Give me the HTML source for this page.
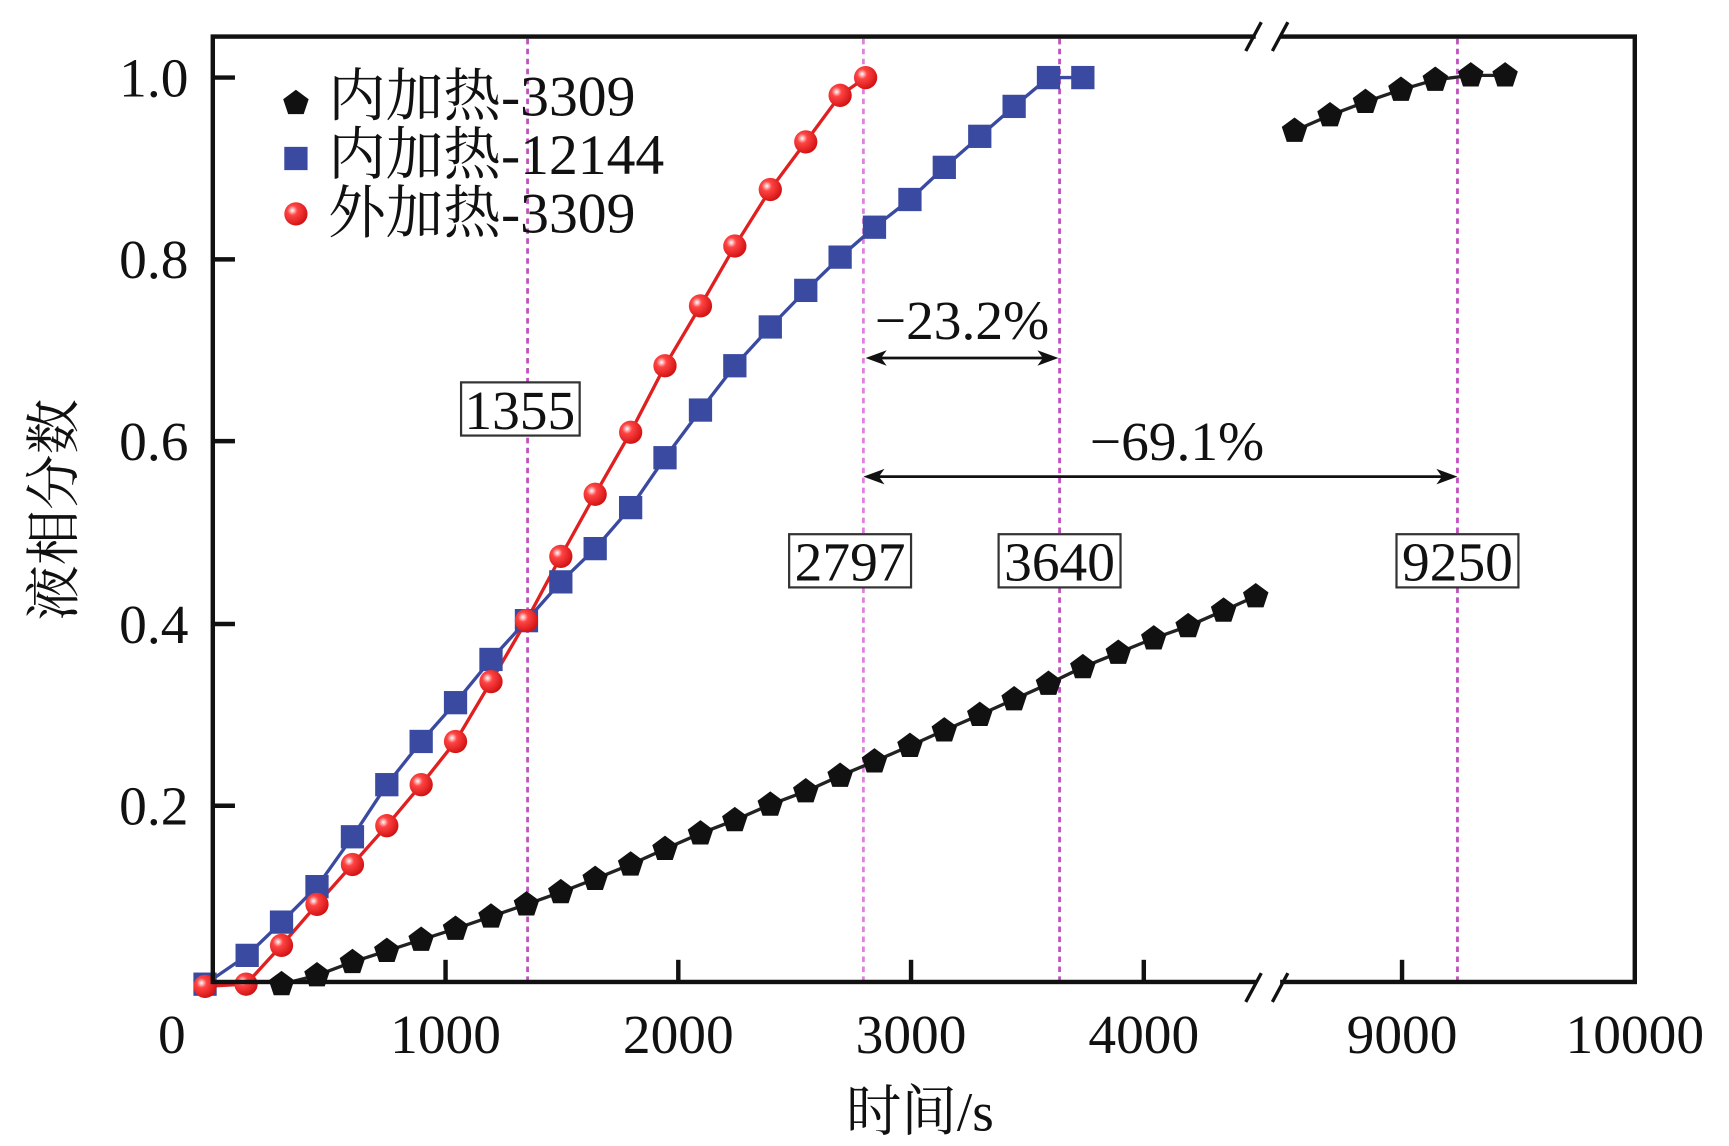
<!DOCTYPE html>
<html><head><meta charset="utf-8"><style>html,body{margin:0;padding:0;background:#fff}svg{display:block}</style></head><body>
<svg width="1729" height="1146" viewBox="0 0 1560 1034" preserveAspectRatio="none" xmlns="http://www.w3.org/2000/svg" font-family="'Liberation Serif','Noto Serif CJK SC',serif">
<defs>
<radialGradient id="rg" cx="0.35" cy="0.35" r="0.7"><stop offset="0" stop-color="#fff"/><stop offset="0.3" stop-color="#f44"/><stop offset="1" stop-color="#d01010"/></radialGradient>
<polygon id="pent" points="0,-12 11.5,-3.5 7,10 -7,10 -11.5,-3.5" fill="#111"/>
<rect id="sq" x="-10.5" y="-10.5" width="21" height="21" fill="#3a4aa0"/>
<circle id="ci" r="10.5" fill="url(#rg)"/>
</defs>
<g stroke="#c050c0" stroke-width="2.5" stroke-dasharray="5,4">
<line x1="476" y1="35" x2="476" y2="886"/><line x1="779" y1="35" x2="779" y2="886" stroke="#e080e0"/>
<line x1="956" y1="35" x2="956" y2="886"/><line x1="1315" y1="35" x2="1315" y2="886"/>
</g>
<polyline fill="none" stroke="#222" stroke-width="3" points="254,888 286,880 318,868 349,858 380,848 411,838 443,827 475,816 506,805 537,793 569,780 600,766 632,752 663,740 695,726 727,714 758,700 789,687 821,673 852,659 884,645 915,631 946,617 977,602 1009,589 1041,576 1072,565 1104,551 1133,538"/>
<polyline fill="none" stroke="#222" stroke-width="3" points="1168,118 1200,104 1232,92 1264,81 1295,72 1327,68 1358,68"/>
<polyline fill="none" stroke="#3a4aa0" stroke-width="3" points="185,888 223,862 254,832 286,800 318,755 349,708 380,669 411,634 443,595 475,560 506,525 537,495 569,458 600,413 632,370 663,330 695,295 727,262 758,232 789,205 821,180 852,151 884,123 915,96 946,70 977,70"/>
<polyline fill="none" stroke="#e02020" stroke-width="3" points="185,890 222,888 254,853 286,816 318,780 349,745 380,708 411,669 443,615 475,560 506,502 537,446 569,390 600,330 632,276 663,222 695,171 727,128 758,86 781,70"/>
<g>
<use href="#pent" x="254" y="888"/><use href="#pent" x="286" y="880"/><use href="#pent" x="318" y="868"/><use href="#pent" x="349" y="858"/><use href="#pent" x="380" y="848"/><use href="#pent" x="411" y="838"/><use href="#pent" x="443" y="827"/><use href="#pent" x="475" y="816"/><use href="#pent" x="506" y="805"/><use href="#pent" x="537" y="793"/><use href="#pent" x="569" y="780"/><use href="#pent" x="600" y="766"/><use href="#pent" x="632" y="752"/><use href="#pent" x="663" y="740"/><use href="#pent" x="695" y="726"/><use href="#pent" x="727" y="714"/><use href="#pent" x="758" y="700"/><use href="#pent" x="789" y="687"/><use href="#pent" x="821" y="673"/><use href="#pent" x="852" y="659"/><use href="#pent" x="884" y="645"/><use href="#pent" x="915" y="631"/><use href="#pent" x="946" y="617"/><use href="#pent" x="977" y="602"/><use href="#pent" x="1009" y="589"/><use href="#pent" x="1041" y="576"/><use href="#pent" x="1072" y="565"/><use href="#pent" x="1104" y="551"/><use href="#pent" x="1133" y="538"/>
<use href="#pent" x="1168" y="118"/><use href="#pent" x="1200" y="104"/><use href="#pent" x="1232" y="92"/><use href="#pent" x="1264" y="81"/><use href="#pent" x="1295" y="72"/><use href="#pent" x="1327" y="68"/><use href="#pent" x="1358" y="68"/>
</g>
<g>
<use href="#sq" x="185" y="888"/><use href="#sq" x="223" y="862"/><use href="#sq" x="254" y="832"/><use href="#sq" x="286" y="800"/><use href="#sq" x="318" y="755"/><use href="#sq" x="349" y="708"/><use href="#sq" x="380" y="669"/><use href="#sq" x="411" y="634"/><use href="#sq" x="443" y="595"/><use href="#sq" x="475" y="560"/><use href="#sq" x="506" y="525"/><use href="#sq" x="537" y="495"/><use href="#sq" x="569" y="458"/><use href="#sq" x="600" y="413"/><use href="#sq" x="632" y="370"/><use href="#sq" x="663" y="330"/><use href="#sq" x="695" y="295"/><use href="#sq" x="727" y="262"/><use href="#sq" x="758" y="232"/><use href="#sq" x="789" y="205"/><use href="#sq" x="821" y="180"/><use href="#sq" x="852" y="151"/><use href="#sq" x="884" y="123"/><use href="#sq" x="915" y="96"/><use href="#sq" x="946" y="70"/><use href="#sq" x="977" y="70"/>
</g>
<g>
<use href="#ci" x="185" y="890"/><use href="#ci" x="222" y="888"/><use href="#ci" x="254" y="853"/><use href="#ci" x="286" y="816"/><use href="#ci" x="318" y="780"/><use href="#ci" x="349" y="745"/><use href="#ci" x="380" y="708"/><use href="#ci" x="411" y="669"/><use href="#ci" x="443" y="615"/><use href="#ci" x="475" y="560"/><use href="#ci" x="506" y="502"/><use href="#ci" x="537" y="446"/><use href="#ci" x="569" y="390"/><use href="#ci" x="600" y="330"/><use href="#ci" x="632" y="276"/><use href="#ci" x="663" y="222"/><use href="#ci" x="695" y="171"/><use href="#ci" x="727" y="128"/><use href="#ci" x="758" y="86"/><use href="#ci" x="781" y="70"/>
</g>
<g stroke="#111" stroke-width="4" fill="none">
<rect x="192" y="33" width="1283" height="853"/>
<line x1="192" y1="727" x2="212" y2="727"/><line x1="192" y1="563" x2="212" y2="563"/><line x1="192" y1="398" x2="212" y2="398"/><line x1="192" y1="234" x2="212" y2="234"/><line x1="192" y1="70" x2="212" y2="70"/>
<line x1="402" y1="886" x2="402" y2="866"/><line x1="612" y1="886" x2="612" y2="866"/><line x1="822" y1="886" x2="822" y2="866"/><line x1="1032" y1="886" x2="1032" y2="866"/><line x1="1265" y1="886" x2="1265" y2="866"/>
</g>
<rect x="1133" y="26" width="22" height="14" fill="#fff"/><rect x="1133" y="879" width="22" height="14" fill="#fff"/>
<g stroke="#111" stroke-width="3"><line x1="1124" y1="46" x2="1138" y2="20"/><line x1="1148" y1="46" x2="1162" y2="20"/><line x1="1124" y1="904" x2="1138" y2="878"/><line x1="1148" y1="904" x2="1162" y2="878"/></g>
<g font-size="50" fill="#111" text-anchor="end">
<text x="170" y="87">1.0</text><text x="170" y="251">0.8</text><text x="170" y="415">0.6</text><text x="170" y="580">0.4</text><text x="170" y="744">0.2</text>
</g>
<g font-size="50" fill="#111" text-anchor="middle">
<text x="155" y="950">0</text><text x="402" y="950">1000</text><text x="612" y="950">2000</text><text x="822" y="950">3000</text><text x="1032" y="950">4000</text><text x="1265" y="950">9000</text><text x="1475" y="950">10000</text>
</g>
<text x="830" y="1020" font-size="50" text-anchor="middle" fill="#111">时间/s</text>
<text transform="translate(66,460) rotate(-90)" font-size="50" text-anchor="middle" fill="#111">液相分数</text>
<use href="#pent" x="267" y="93"/><use href="#sq" x="267" y="143"/><use href="#ci" x="267" y="193"/>
<g font-size="52" fill="#111"><text x="296" y="104">内加热-3309</text><text x="296" y="157">内加热-12144</text><text x="296" y="210">外加热-3309</text></g>
<g fill="#fff" stroke="#333" stroke-width="2"><rect x="416" y="345" width="107" height="48"/><rect x="712" y="482" width="110" height="48"/><rect x="901" y="482" width="110" height="48"/><rect x="1260" y="482" width="110" height="48"/></g>
<g font-size="50" fill="#111" text-anchor="middle"><text x="469" y="387">1355</text><text x="767" y="524">2797</text><text x="956" y="524">3640</text><text x="1315" y="524">9250</text></g>
<g stroke="#111" stroke-width="2.5"><line x1="785" y1="323" x2="950" y2="323"/><line x1="783" y1="430" x2="1310" y2="430"/></g>
<g fill="#111"><polygon points="781,323 800,316 795,323 800,330"/><polygon points="955,323 936,316 941,323 936,330"/><polygon points="779,430 798,423 793,430 798,437"/><polygon points="1315,430 1296,423 1301,430 1296,437"/></g>
<g font-size="50" fill="#111" text-anchor="middle"><text x="868" y="306">−23.2%</text><text x="1062" y="415">−69.1%</text></g>
</svg>
</body></html>
